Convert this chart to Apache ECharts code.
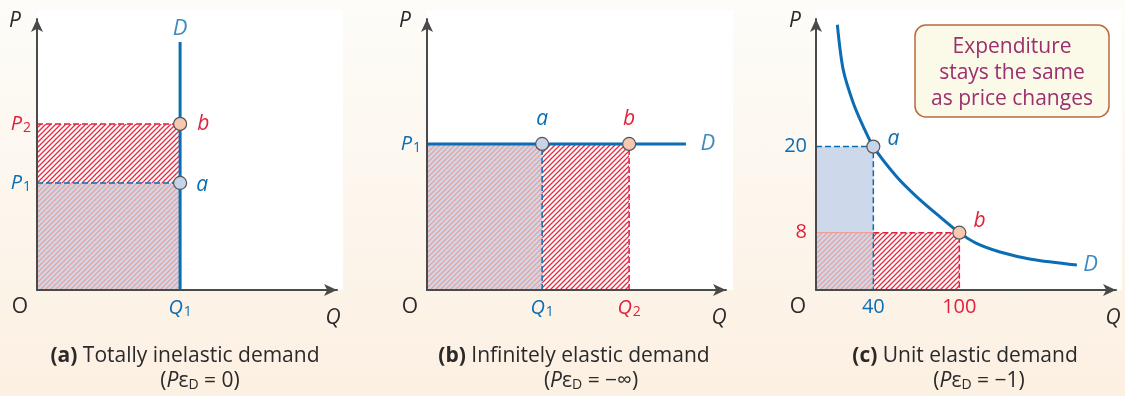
<!DOCTYPE html>
<html>
<head>
<meta charset="utf-8">
<script src="https://cdn.jsdelivr.net/npm/echarts@6/dist/echarts.min.js"></script>
<style>
html,body{margin:0;padding:0;}
body{background:linear-gradient(#fdfcf8,#fcf0e2);}
#main{width:1125px;height:396px;}
</style>
</head>
<body>
<div id="main"></div>
<script>
// (a) totally inelastic demand, relative units 0..100
var aPrice = [39.5, 61.3];          // P1, P2
var aPriceLabels = ['P1', 'P2'];
var aQty = [47.7];                  // Q1
var aQtyLabels = ['Q1'];
var aDemand = [[47.7, 0], [47.7, 91.5]];

// (b) infinitely elastic demand
var bPrice = [53.9];
var bPriceLabels = ['P1'];
var bQty = [38.5, 67.6];            // Q1, Q2
var bQtyLabels = ['Q1', 'Q2'];
var bDemand = [[0, 53.9], [86.6, 53.9]];

// (c) unit elastic demand
var cPrice = [20, 8];
var cPriceLabels = ['20', '8'];
var cQty = [40, 100];
var cQtyLabels = ['40', '100'];
var cDemand = [[14.9, 37], [19, 30.7], [26, 26.1], [33, 22.8], [40, 20], [56.3, 15.8],
               [70.3, 13], [86.5, 10.2], [100, 8], [112, 6.5], [128.4, 5.3],
               [150, 4.3], [182, 3.5]];

var blue = '#0b6db3', red = '#e0213c', ink = '#2a2a2a', axisC = '#4a4a4a';
var font = 'Open Sans';

function hatch(bg, line){
    var c = document.createElement('canvas');
    c.width = 5; c.height = 5;
    var g = c.getContext('2d');
    if(bg){ g.fillStyle = bg; g.fillRect(0, 0, 5, 5); }
    g.strokeStyle = line; g.lineWidth = 1.3;
    g.beginPath();
    g.moveTo(-1, 6); g.lineTo(6, -1);
    g.moveTo(-1, 1); g.lineTo(1, -1);
    g.moveTo(4, 6); g.lineTo(6, 4);
    g.stroke();
    return {image: c, repeat: 'repeat'};
}
var redHatch = hatch(null, '#e32b41');
var mixHatch = hatch('#cdd8ea', '#eba29c');
var blueFill = '#cdd8ea';

var rich = {
    b0: {color: blue, fontStyle: 'italic', fontSize: 20, fontFamily: font},
    s0: {color: blue, fontSize: 14, fontFamily: font, padding: [8, 0, 0, 1]},
    n0: {color: blue, fontSize: 20, fontFamily: font},
    b1: {color: red, fontStyle: 'italic', fontSize: 20, fontFamily: font},
    s1: {color: red, fontSize: 14, fontFamily: font, padding: [8, 0, 0, 1]},
    n1: {color: red, fontSize: 20, fontFamily: font}
};
function tickFmt(values, labels){
    return function(v){
        var k = 0;
        for(var i = 0; i < values.length; i++){
            if(Math.abs(values[i] - v) < 1e-6){ k = i; }
        }
        var t = labels[k];
        if(/^[A-Z]\d$/.test(t)){
            return '{b' + k + '|' + t.charAt(0) + '}{s' + k + '|' + t.charAt(1) + '}';
        }
        return '{n' + k + '|' + t + '}';
    };
}

function axis(i, max, ticks, labels, margin){
    return {
        gridIndex: i, type: 'value', min: 0, max: max, z: 5,
        axisLine: {show: true, onZero: false, lineStyle: {color: axisC, width: 2},
                   symbol: ['none', 'arrow'], symbolSize: [9, 13]},
        axisTick: {show: false},
        splitLine: {show: false},
        axisLabel: {customValues: ticks, formatter: tickFmt(ticks, labels), margin: margin, rich: rich}
    };
}

function rectSeries(i, data, fill, z){
    return {
        type: 'custom', xAxisIndex: i, yAxisIndex: i, z: z, silent: true,
        renderItem: function(params, api){
            var p0 = api.coord([api.value(0), api.value(1)]);
            var p1 = api.coord([api.value(2), api.value(3)]);
            return {type: 'rect',
                    shape: {x: p0[0], y: p1[1], width: p1[0] - p0[0], height: p0[1] - p1[1]},
                    style: {fill: fill}};
        },
        data: data
    };
}
function lineSeries(i, data, color, width, dashed, smooth){
    return {
        type: 'line', xAxisIndex: i, yAxisIndex: i, z: 3, silent: true,
        symbol: 'none', smooth: smooth ? 0.3 : false, data: data,
        lineStyle: {color: color, width: width, type: dashed ? [6, 3] : 'solid'}
    };
}
function pointSeries(i, pt, fill, name, color, pos, off){
    return {
        type: 'scatter', xAxisIndex: i, yAxisIndex: i, z: 6, silent: true,
        symbolSize: 13, data: [pt],
        itemStyle: {color: fill, borderColor: '#555', borderWidth: 1.2, opacity: 1},
        label: {show: true, formatter: name, position: pos, offset: off, color: color,
                fontStyle: 'italic', fontSize: 21, fontFamily: font}
    };
}
function textSeries(i, pt, name, pos, dist){
    return {
        type: 'scatter', xAxisIndex: i, yAxisIndex: i, z: 6, silent: true,
        symbolSize: 1, data: [pt], itemStyle: {color: 'rgba(0,0,0,0)'},
        label: {show: true, formatter: name, position: pos, distance: dist, color: blue,
                fontStyle: 'italic', fontSize: 22, fontFamily: font}
    };
}

function txt(x, y, s, opt){
    var st = {x: x, y: y, text: s, fill: ink, font: '21px "' + font + '"',
              align: 'center', verticalAlign: 'middle'};
    for(var k in opt){ st[k] = opt[k]; }
    return {type: 'text', z: 10, style: st};
}
var itFont = 'italic 21px "' + font + '"';
var capRich = {
    bd: {fontWeight: 'bold', fontSize: 21, fontFamily: font, fill: ink},
    it: {fontStyle: 'italic', fontSize: 21, fontFamily: font, fill: ink},
    sb: {fontSize: 14, fontFamily: font, fill: ink, padding: [9, 0, 0, 0]},
    rg: {fontSize: 21, fontFamily: font, fill: ink}
};
function caption(x, y, tag, title, x2, tail){
    return [
        txt(x, y, '{bd|' + tag + '}{rg| ' + title + '}', {rich: capRich}),
        txt(x2, y + 25, '{rg|(}{it|P}{rg|\u03b5}{sb|D}{rg| = ' + tail + ')}', {rich: capRich})
    ];
}

var graphic = [
    {type: 'rect', z: -1, shape: {x: 37, y: 10, width: 306, height: 280}, style: {fill: '#fff'}},
    {type: 'rect', z: -1, shape: {x: 427, y: 10, width: 306, height: 280}, style: {fill: '#fff'}},
    {type: 'rect', z: -1, shape: {x: 816, y: 10, width: 306, height: 280}, style: {fill: '#fff'}},
    txt(15, 21, 'P', {font: itFont}),
    txt(405, 21, 'P', {font: itFont}),
    txt(795, 21, 'P', {font: itFont}),
    txt(20, 307, 'O'), txt(410, 307, 'O'), txt(798, 307, 'O'),
    txt(333, 318, 'Q', {font: itFont}),
    txt(719, 318, 'Q', {font: itFont}),
    txt(1113, 318, 'Q', {font: itFont}),
    {type: 'rect', z: 8, shape: {x: 915, y: 25, width: 194, height: 92, r: 11},
     style: {fill: '#fbf9e7', stroke: '#b8693f', lineWidth: 1.5}},
    txt(1012, 47, 'Expenditure', {fill: '#9c2f6e'}),
    txt(1012, 73, 'stays the same', {fill: '#9c2f6e'}),
    txt(1012, 99, 'as price changes', {fill: '#9c2f6e'})
].concat(caption(185, 356, '(a)', 'Totally inelastic demand', 200, '0'))
 .concat(caption(574, 356, '(b)', 'Infinitely elastic demand', 591, '\u2212\u221e'))
 .concat(caption(965, 356, '(c)', 'Unit elastic demand', 979, '\u22121'));

var option = {
    animation: false,
    grid: [
        {left: 37, top: 19, width: 300, height: 271},
        {left: 427, top: 19, width: 299, height: 271},
        {left: 816, top: 19, width: 300, height: 271}
    ],
    xAxis: [
        axis(0, 100, aQty, aQtyLabels, 7),
        axis(1, 100, bQty, bQtyLabels, 7),
        axis(2, 209.3, cQty, cQtyLabels, 7)
    ],
    yAxis: [
        axis(0, 100, aPrice, aPriceLabels, 6),
        axis(1, 100, bPrice, bPriceLabels, 6),
        axis(2, 37.8, cPrice, cPriceLabels, 9)
    ],
    graphic: graphic,
    series: [
        // (a)
        rectSeries(0, [[0, 0, aQty[0], aPrice[0]]], mixHatch, 1),
        rectSeries(0, [[0, aPrice[0], aQty[0], aPrice[1]]], redHatch, 1),
        lineSeries(0, [[0, aPrice[1]], [aQty[0], aPrice[1]]], red, 1.5, true),
        lineSeries(0, [[0, aPrice[0]], [aQty[0], aPrice[0]]], blue, 1.5, true),
        lineSeries(0, aDemand, blue, 3, false),
        pointSeries(0, [aQty[0], aPrice[1]], '#f6c8b2', 'b', red, 'right', [5, 0]),
        pointSeries(0, [aQty[0], aPrice[0]], '#c7d3e8', 'a', blue, 'right', [4, 2]),
        textSeries(0, aDemand[1], 'D', 'top', 2),
        // (b)
        rectSeries(1, [[0, 0, bQty[0], bPrice[0]]], mixHatch, 1),
        rectSeries(1, [[bQty[0], 0, bQty[1], bPrice[0]]], redHatch, 1),
        lineSeries(1, [[bQty[1], 0], [bQty[1], bPrice[0]]], red, 1.5, true),
        lineSeries(1, [[bQty[0], 0], [bQty[0], bPrice[0]]], blue, 1.5, true),
        lineSeries(1, bDemand, blue, 3, false),
        pointSeries(1, [bQty[0], bPrice[0]], '#c7d3e8', 'a', blue, 'top', [0, -2]),
        pointSeries(1, [bQty[1], bPrice[0]], '#f6c8b2', 'b', red, 'top', [0, -2]),
        textSeries(1, bDemand[1], 'D', 'right', 14),
        // (c)
        rectSeries(2, [[0, cPrice[1], cQty[0], cPrice[0]]], blueFill, 1),
        rectSeries(2, [[0, 0, cQty[0], cPrice[1]]], mixHatch, 1),
        rectSeries(2, [[cQty[0], 0, cQty[1], cPrice[1]]], redHatch, 1),
        lineSeries(2, [[0, cPrice[1]], [cQty[0], cPrice[1]]], '#eba29c', 1.2, false),
        lineSeries(2, [[cQty[0], cPrice[1]], [cQty[1], cPrice[1]], [cQty[1], 0]], red, 1.5, true),
        lineSeries(2, [[0, cPrice[0]], [cQty[0], cPrice[0]], [cQty[0], 0]], blue, 1.5, true),
        lineSeries(2, cDemand, blue, 3, false, true),
        pointSeries(2, [cQty[0], cPrice[0]], '#c7d3e8', 'a', blue, 'right', [2, -8]),
        pointSeries(2, [cQty[1], cPrice[1]], '#f6c8b2', 'b', red, 'right', [2, -12]),
        textSeries(2, cDemand[cDemand.length - 1], 'D', 'right', 6)
    ]
};

var chart = echarts.init(document.getElementById('main'), null, {renderer: 'canvas'});
chart.setOption(option);
</script>
</body>
</html>
